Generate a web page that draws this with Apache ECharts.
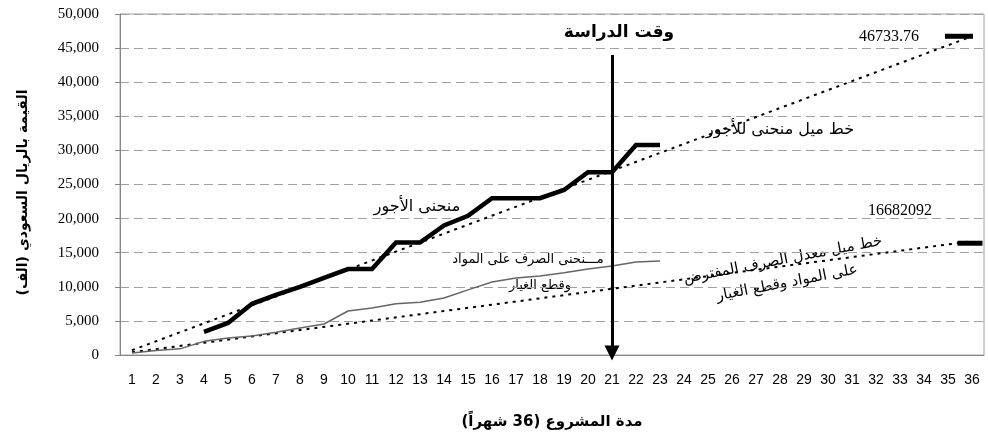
<!DOCTYPE html>
<html>
<head>
<meta charset="utf-8">
<title>منحنى الأجور</title>
<script src="https://cdn.jsdelivr.net/npm/echarts@6/dist/echarts.min.js"></script>
<style>
    html, body { margin: 0; padding: 0; background: #fff; }
    #chart { width: 988px; height: 440px; }
</style>
</head>
<body>
<div id="chart" dir="rtl"></div>
<script>
// الأشهر (محور السينات)
var months = ['1', '2', '3', '4', '5', '6', '7', '8', '9', '10', '11', '12',
    '13', '14', '15', '16', '17', '18', '19', '20', '21', '22', '23', '24',
    '25', '26', '27', '28', '29', '30', '31', '32', '33', '34', '35', '36'];

// منحنى الأجور (من الشهر 4 الى 23)
var wageMonths = ['4', '5', '6', '7', '8', '9', '10', '11', '12', '13', '14', '15',
    '16', '17', '18', '19', '20', '21', '22', '23'];
var wageValues = [3400, 4700, 7500, 8800, 10000, 11300, 12600, 12600, 16500, 16500,
    19000, 20400, 23000, 23000, 23000, 24200, 26800, 26800, 30800, 30800];

// منحنى الصرف على المواد وقطع الغيار (من الشهر 1 الى 23)
var materialMonths = ['1', '2', '3', '4', '5', '6', '7', '8', '9', '10', '11', '12',
    '13', '14', '15', '16', '17', '18', '19', '20', '21', '22', '23'];
var materialValues = [300, 650, 900, 2000, 2500, 2800, 3350, 3950, 4550, 6450, 6900, 7500,
    7750, 8350, 9550, 10700, 11300, 11600, 12050, 12600, 13050, 13650, 13800];

// خطوط الميل (بداية ونهاية)
var trendMonths = ['1', '36'];
var wageTrend = [700, 46733.76];
var materialTrend = [400, 16682.092];

// وقت الدراسة
var studyMonth = '21';
var studyArrow = [44000, 300];

var arFont = '"DejaVu Sans", Arial, sans-serif';

var myChart = echarts.init(document.getElementById('chart'));

function pairs(xs, ys) {
    return xs.map(function (x, i) { return [x, ys[i]]; });
}

var option = {
    animation: false,
    backgroundColor: '#fff',
    grid: {
        left: 120,
        right: 4,
        top: 14,
        bottom: 85,
        outerBoundsMode: 'none',
        containLabel: false,
        show: true,
        borderColor: '#a0a0a0',
        borderWidth: 1
    },
    xAxis: {
        type: 'category',
        data: months,
        boundaryGap: true,
        name: 'مدة المشروع (36 شهراً)',
        nameLocation: 'middle',
        nameGap: 60,
        nameTextStyle: {
            fontFamily: arFont,
            fontWeight: 'bold',
            fontSize: 15,
            color: '#000'
        },
        axisLine: { lineStyle: { color: '#888' } },
        axisTick: { length: 6, lineStyle: { color: '#888' } },
        axisLabel: {
            interval: 0,
            margin: 18,
            fontFamily: '"Liberation Sans", Arial, sans-serif',
            fontSize: 14,
            color: '#000'
        },
        splitLine: { show: false }
    },
    yAxis: {
        type: 'value',
        min: 0,
        max: 50000,
        interval: 5000,
        name: 'القيمة بالريال السعودي (الف)',
        nameLocation: 'middle',
        nameGap: 90,
        nameTextStyle: {
            fontFamily: arFont,
            fontWeight: 'bold',
            fontSize: 14,
            color: '#000',
            padding: [0, 16, 0, 0]
        },
        axisLine: { show: true, lineStyle: { color: '#888' } },
        axisTick: { show: true, length: 5, lineStyle: { color: '#888' } },
        axisLabel: {
            margin: 21,
            fontFamily: '"Liberation Serif", "Times New Roman", serif',
            fontSize: 15,
            color: '#000',
            formatter: function (v) {
                return v.toLocaleString('en-US');
            }
        },
        splitLine: {
            lineStyle: { color: '#a0a0a0', type: [9, 5], width: 1 }
        }
    },
    series: [
        {
            name: 'خط ميل منحنى للأجور',
            type: 'line',
            z: 2,
            data: [
                { value: [trendMonths[0], wageTrend[0]], symbol: 'none' },
                { value: [trendMonths[1], wageTrend[1]], symbol: 'rect', symbolSize: [28, 5], symbolOffset: [-13, 0] }
            ],
            itemStyle: { color: '#000' },
            lineStyle: { color: '#000', width: 2, type: [3, 5] }
        },
        {
            name: 'خط ميل معدل الصرف المفترض',
            type: 'line',
            z: 2,
            data: [
                { value: [trendMonths[0], materialTrend[0]], symbol: 'none' },
                { value: [trendMonths[1], materialTrend[1]], symbol: 'rect', symbolSize: [25, 5], symbolOffset: [-2, 2] }
            ],
            itemStyle: { color: '#000' },
            lineStyle: { color: '#000', width: 2, type: [3, 5] }
        },
        {
            name: 'منحنى الصرف على المواد',
            type: 'line',
            z: 3,
            showSymbol: false,
            data: pairs(materialMonths, materialValues),
            lineStyle: { color: '#666', width: 1.5 }
        },
        {
            name: 'منحنى الأجور',
            type: 'line',
            z: 4,
            showSymbol: false,
            data: pairs(wageMonths, wageValues),
            lineStyle: { color: '#000', width: 4.5, join: 'miter' },
            markLine: {
                silent: true,
                symbol: ['none', 'triangle'],
                symbolSize: [15, 15],
                label: { show: false },
                lineStyle: { color: '#000', width: 3, type: 'solid' },
                data: [[
                    { coord: [studyMonth, studyArrow[0]] },
                    { coord: [studyMonth, studyArrow[1]] }
                ]]
            }
        }
    ],
    graphic: [
        { type: 'text', x: 619, y: 33, style: { text: 'وقت الدراسة', font: 'bold 17px ' + arFont, fill: '#000', align: 'center', verticalAlign: 'middle' } },
        { type: 'text', x: 417, y: 207, style: { text: 'منحنى الأجور', font: '16px ' + arFont, fill: '#000', align: 'center', verticalAlign: 'middle' } },
        { type: 'text', x: 780, y: 130, style: { text: 'خط ميل منحنى للأجور', font: '16px ' + arFont, fill: '#000', align: 'center', verticalAlign: 'middle' } },
        { type: 'text', x: 889, y: 37, style: { text: '46733.76', font: '16px "Liberation Serif", serif', fill: '#000', align: 'center', verticalAlign: 'middle' } },
        { type: 'text', x: 900, y: 211, style: { text: '16682092', font: '16px "Liberation Serif", serif', fill: '#000', align: 'center', verticalAlign: 'middle' } },
        { type: 'text', x: 528, y: 260, style: { text: 'مـــنحنى الصرف على المواد', font: '13px ' + arFont, fill: '#000', align: 'center', verticalAlign: 'middle' } },
        { type: 'text', x: 540, y: 286, style: { text: 'وقطع الغيار', font: '13px ' + arFont, fill: '#000', align: 'center', verticalAlign: 'middle' } },
        { type: 'text', x: 783, y: 260, rotation: 0.19, style: { text: 'خط ميل معدل الصرف المفترض', font: '15px ' + arFont, fill: '#000', align: 'center', verticalAlign: 'middle' } },
        { type: 'text', x: 787, y: 283, rotation: 0.19, style: { text: 'على المواد وقطع الغيار', font: '15px ' + arFont, fill: '#000', align: 'center', verticalAlign: 'middle' } }
    ]
};

myChart.setOption(option);
</script>
</body>
</html>
